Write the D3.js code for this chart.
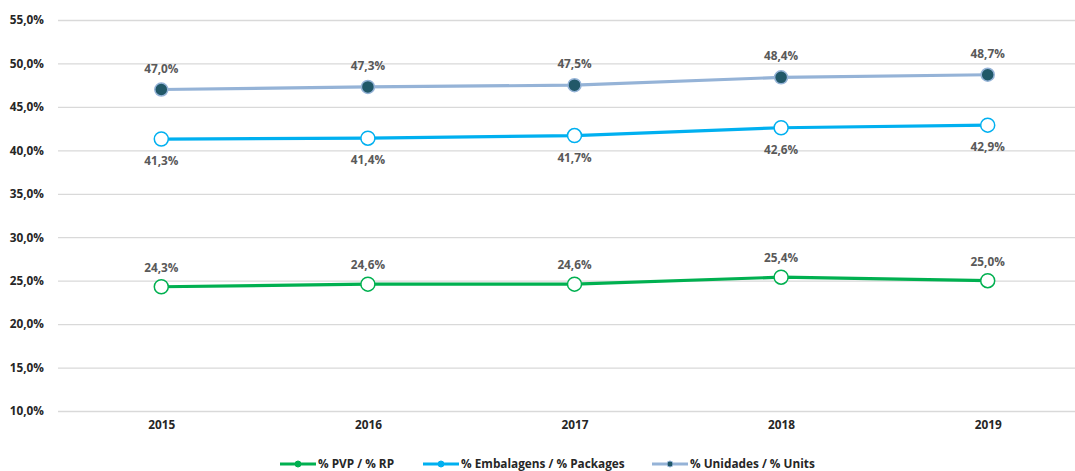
<!DOCTYPE html>
<html><head><meta charset="utf-8">
<script src="https://cdn.jsdelivr.net/npm/d3@7"></script>
<style>
body{margin:0;background:#fff;}
svg{display:block;font-family:"Open Sans",sans-serif;}
</style></head>
<body><svg id="c" width="1075" height="471"></svg>
<script>
const years = ["2015","2016","2017","2018","2019"];
const pvp = [24.3, 24.6, 24.6, 25.4, 25.0];
const embalagens = [41.3, 41.4, 41.7, 42.6, 42.9];
const unidades = [47.0, 47.3, 47.5, 48.4, 48.7];
const yTicks = [10,15,20,25,30,35,40,45,50,55];
const seriesNames = ["% PVP / % RP","% Embalagens / % Packages","% Unidades / % Units"];

const FONT = "'Open Sans',sans-serif";
const FS = "11.8px";
const svg = d3.select("#c");
const x = d3.scalePoint().domain(years).range([58,1091]).padding(0.5);
const y = d3.scaleLinear().domain([10,55]).range([411,20]);
const fmt = v => v.toFixed(1).replace(".", ",") + "%";

const yAxis = d3.axisLeft(y).tickValues(yTicks).tickSize(-(1091-58)).tickFormat(fmt).tickPadding(14);
const gy = svg.append("g").attr("transform","translate(58,0)").call(yAxis);
gy.select(".domain").remove();
gy.selectAll(".tick line").attr("stroke","#d9d9d9").attr("stroke-width",1.3);
gy.selectAll(".tick text").attr("fill","#262626").attr("font-size",FS).attr("font-weight","bold").attr("font-family",FONT);

const xAxis = d3.axisBottom(x).tickSize(0).tickPadding(10);
const gx = svg.append("g").attr("transform","translate(0,411)").call(xAxis);
gx.select(".domain").remove();
gx.selectAll(".tick text").attr("fill","#262626").attr("font-size",FS).attr("font-weight","bold").attr("font-family",FONT);

const series = [
  {name:seriesNames[0], data:pvp, color:"#00B050", mfill:"#fff", mstroke:"#00B050", r:7, labelDy:-15},
  {name:seriesNames[1], data:embalagens, color:"#00B0F0", mfill:"#fff", mstroke:"#00B0F0", r:7, labelDy:26},
  {name:seriesNames[2], data:unidades, color:"#95B3D7", mfill:"#215868", mstroke:"#95B3D7", r:6.5, labelDy:-17}
];
const line = d3.line().x((d,i)=>x(years[i])).y(d=>y(d));
series.forEach(s=>{
  const g = svg.append("g");
  g.append("path").attr("d", line(s.data)).attr("fill","none").attr("stroke",s.color).attr("stroke-width",3.2).attr("stroke-linejoin","round");
  g.selectAll("circle").data(s.data).join("circle")
    .attr("cx",(d,i)=>x(years[i])).attr("cy",d=>y(d)).attr("r",s.r)
    .attr("fill",s.mfill).attr("stroke",s.mstroke).attr("stroke-width",1.5);
  g.selectAll("text").data(s.data).join("text")
    .attr("x",(d,i)=>x(years[i])).attr("y",d=>y(d)+s.labelDy)
    .attr("text-anchor","middle").attr("fill","#595959").attr("font-size",FS).attr("font-weight","bold")
    .text(fmt);
});

const legX = [280, 423, 652];
const lg = svg.append("g");
series.forEach((s,i)=>{
  const gg = lg.append("g").attr("transform",`translate(${legX[i]},464)`);
  gg.append("line").attr("x1",0).attr("x2",36).attr("y1",0).attr("y2",0).attr("stroke",s.color).attr("stroke-width",3.2);
  gg.append("circle").attr("cx",18).attr("cy",0).attr("r",3).attr("fill", i==2 ? s.mfill : s.color).attr("stroke",s.color).attr("stroke-width",1);
  gg.append("text").attr("x",38).attr("y",4).attr("fill","#262626").attr("font-size",FS).attr("font-weight","bold").text(s.name);
});
</script></body></html>
